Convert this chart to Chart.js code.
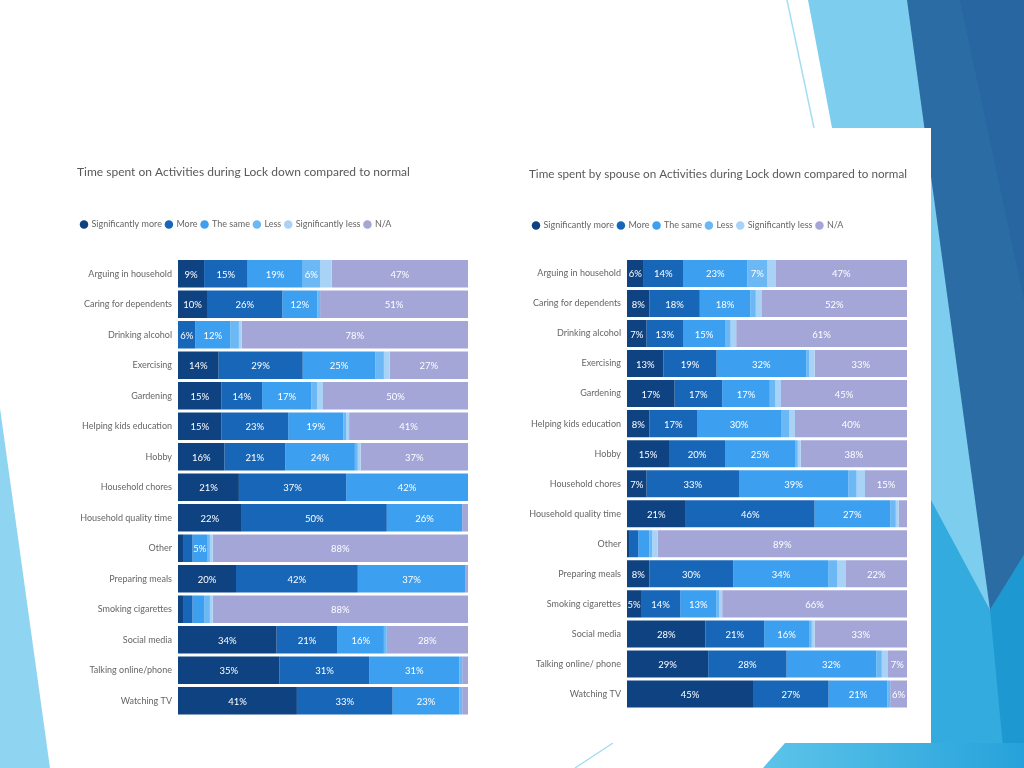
<!DOCTYPE html>
<html>
<head>
<meta charset="utf-8">
<script src="https://cdn.jsdelivr.net/npm/chart.js@4.4.1/dist/chart.umd.min.js"></script>
<style>
  body { margin: 0; background: #fff; }
  #slide { position: relative; width: 1024px; height: 768px; overflow: hidden; background: #fff; }
  #slide svg { position: absolute; left: 0; top: 0; }
  canvas { position: absolute; }
  #leftChart { left: 60px; top: 150px; }
  #rightChart { left: 520px; top: 150px; }
</style>
</head>
<body>
<div id="slide">
  <svg width="1024" height="768">
    <defs>
      <linearGradient id="bottomBlue" x1="0" y1="0" x2="1" y2="0">
        <stop offset="0" stop-color="#5dc4ea"/>
        <stop offset="1" stop-color="#26a2da"/>
      </linearGradient>
    </defs>
    <!-- left triangle -->
    <polygon points="0,408 50,768 0,768" fill="#8fd5f1"/>
    <!-- right side shapes -->
    <line x1="787" y1="0" x2="814" y2="128" stroke="#a5def3" stroke-width="1.5"/>
    <polygon points="808,0 1024,0 1024,768 952,768" fill="#7ccdee"/>
    <polygon points="931,500 990,610 1024,555 1024,768 931,768" fill="#34abdf"/>
    <polygon points="990,610 1024,555 1024,768 1005,768" fill="#1e98d0"/>
    <polygon points="907,0 1024,0 1024,555 990,610" fill="#2a6ca3"/>
    <polygon points="960,0 1024,0 1024,300" fill="#2766a0"/>
    <polygon points="763,768 785,743 1024,743 1024,768" fill="url(#bottomBlue)"/>
    <line x1="575" y1="768" x2="613" y2="743" stroke="#9cd9f1" stroke-width="1.2"/>
    <!-- white panel behind the right chart -->
    <rect x="520" y="128" width="411" height="615" fill="#fff"/>
  </svg>
  <canvas id="leftChart" width="420" height="580"></canvas>
  <canvas id="rightChart" width="410" height="580"></canvas>
</div>

<script>
// categories
const activitiesLeft = ['Arguing in household', 'Caring for dependents', 'Drinking alcohol', 'Exercising', 'Gardening',
    'Helping kids education', 'Hobby', 'Household chores', 'Household quality time', 'Other',
    'Preparing meals', 'Smoking cigarettes', 'Social media', 'Talking online/phone', 'Watching TV'];
const activitiesRight = ['Arguing in household', 'Caring for dependents', 'Drinking alcohol', 'Exercising', 'Gardening',
    'Helping kids education', 'Hobby', 'Household chores', 'Household quality time', 'Other',
    'Preparing meals', 'Smoking cigarettes', 'Social media', 'Talking online/ phone', 'Watching TV'];

const seriesNames = ['Significantly more', 'More', 'The same', 'Less', 'Significantly less', 'N/A'];
const seriesColors = ['#0e4280', '#1866b8', '#3d9ff0', '#6cb8f5', '#a8d3f7', '#a3a6d7'];

// respondent (%)
const sigMoreL = [9, 10, 0, 14, 15, 15, 16, 21, 22, 2, 20, 2, 34, 35, 41];
const moreL    = [15, 26, 6, 29, 14, 23, 21, 37, 50, 3, 42, 3, 21, 31, 33];
const sameL    = [19, 12, 12, 25, 17, 19, 24, 42, 26, 5, 37, 4, 16, 31, 23];
const lessL    = [6, 1, 3, 3, 2, 1, 1, 0, 0, 1, 0, 2, 1, 1, 1];
const sigLessL = [4, 0, 1, 2, 2, 1, 1, 0, 0, 1, 0, 1, 0, 0, 0];
const naL      = [47, 51, 78, 27, 50, 41, 37, 0, 2, 88, 1, 88, 28, 2, 2];

// spouse (%)
const sigMoreR = [6, 8, 7, 13, 17, 8, 15, 7, 21, 1, 8, 5, 28, 29, 45];
const moreR    = [14, 18, 13, 19, 17, 17, 20, 33, 46, 3, 30, 14, 21, 28, 27];
const sameR    = [23, 18, 15, 32, 17, 30, 25, 39, 27, 4, 34, 13, 16, 32, 21];
const lessR    = [7, 2, 2, 1, 2, 3, 1, 3, 2, 1, 3, 1, 1, 2, 1];
const sigLessR = [3, 2, 2, 2, 2, 2, 1, 3, 1, 2, 3, 1, 1, 2, 0];
const naR      = [47, 52, 61, 33, 45, 40, 38, 15, 3, 89, 22, 66, 33, 7, 6];

const fontFamily = 'Lato, "Liberation Sans", sans-serif';

// white % labels inside the segments
const barLabels = {
    id: 'barLabels',
    afterDatasetsDraw(chart) {
        const ctx = chart.ctx;
        ctx.save();
        ctx.font = '9.5px ' + fontFamily;
        ctx.fillStyle = '#ffffff';
        ctx.textAlign = 'center';
        ctx.textBaseline = 'middle';
        chart.data.datasets.forEach((ds, i) => {
            chart.getDatasetMeta(i).data.forEach((bar, j) => {
                const v = ds.data[j];
                if (v < 5) return;
                const p = bar.getCenterPoint();
                ctx.fillText(v + '%', p.x, p.y + 1);
            });
        });
        ctx.restore();
    }
};

// extra room under the legend
function legendGap(px) {
    return {
        id: 'legendGap',
        beforeInit(chart) {
            const fit = chart.legend.fit;
            chart.legend.fit = function () {
                fit.bind(chart.legend)();
                this.height += px;
            };
        }
    };
}

function makeChart(id, title, labels, series, box) {
    new Chart(document.getElementById(id), {
        type: 'bar',
        data: {
            labels: labels,
            datasets: series.map((d, i) => ({
                label: seriesNames[i],
                data: d,
                backgroundColor: seriesColors[i],
                borderWidth: 0,
                barPercentage: 0.9,
                categoryPercentage: 1
            }))
        },
        options: {
            indexAxis: 'y',
            responsive: false,
            animation: false,
            layout: { padding: { left: box.padLeft, right: box.padRight, top: 0, bottom: box.padBottom } },
            plugins: {
                title: {
                    display: true,
                    text: title,
                    align: 'start',
                    color: '#595959',
                    font: { family: fontFamily, size: 12, weight: 'normal' },
                    padding: { top: box.titleTop, bottom: box.titleBottom }
                },
                legend: {
                    display: true,
                    align: 'start',
                    labels: {
                        usePointStyle: true,
                        pointStyle: 'circle',
                        boxWidth: 6,
                        boxHeight: 6,
                        padding: 4,
                        color: '#666',
                        font: { family: fontFamily, size: 9 }
                    }
                },
                tooltip: { enabled: false }
            },
            scales: {
                x: { stacked: true, display: false, min: 0, max: 100 },
                y: {
                    stacked: true,
                    grid: { display: false, drawTicks: false },
                    border: { display: false },
                    ticks: { color: '#666', padding: 6, font: { family: fontFamily, size: 9 } },
                    afterFit: s => { s.width = box.axisWidth; }
                }
            }
        },
        plugins: [barLabels, legendGap(box.gap)]
    });
}

makeChart('leftChart', 'Time spent on Activities during Lock down compared to normal', activitiesLeft,
    [sigMoreL, moreL, sameL, lessL, sigLessL, naL],
    { padLeft: 17, padRight: 12, padBottom: 14, axisWidth: 101, titleTop: 15, titleBottom: 36.5, gap: 19.5 });

makeChart('rightChart', 'Time spent by spouse on Activities during Lock down compared to normal', activitiesRight,
    [sigMoreR, moreR, sameR, lessR, sigLessR, naR],
    { padLeft: 9, padRight: 23, padBottom: 21, axisWidth: 98, titleTop: 17, titleBottom: 35.5, gap: 18.5 });
</script>
</body>
</html>
